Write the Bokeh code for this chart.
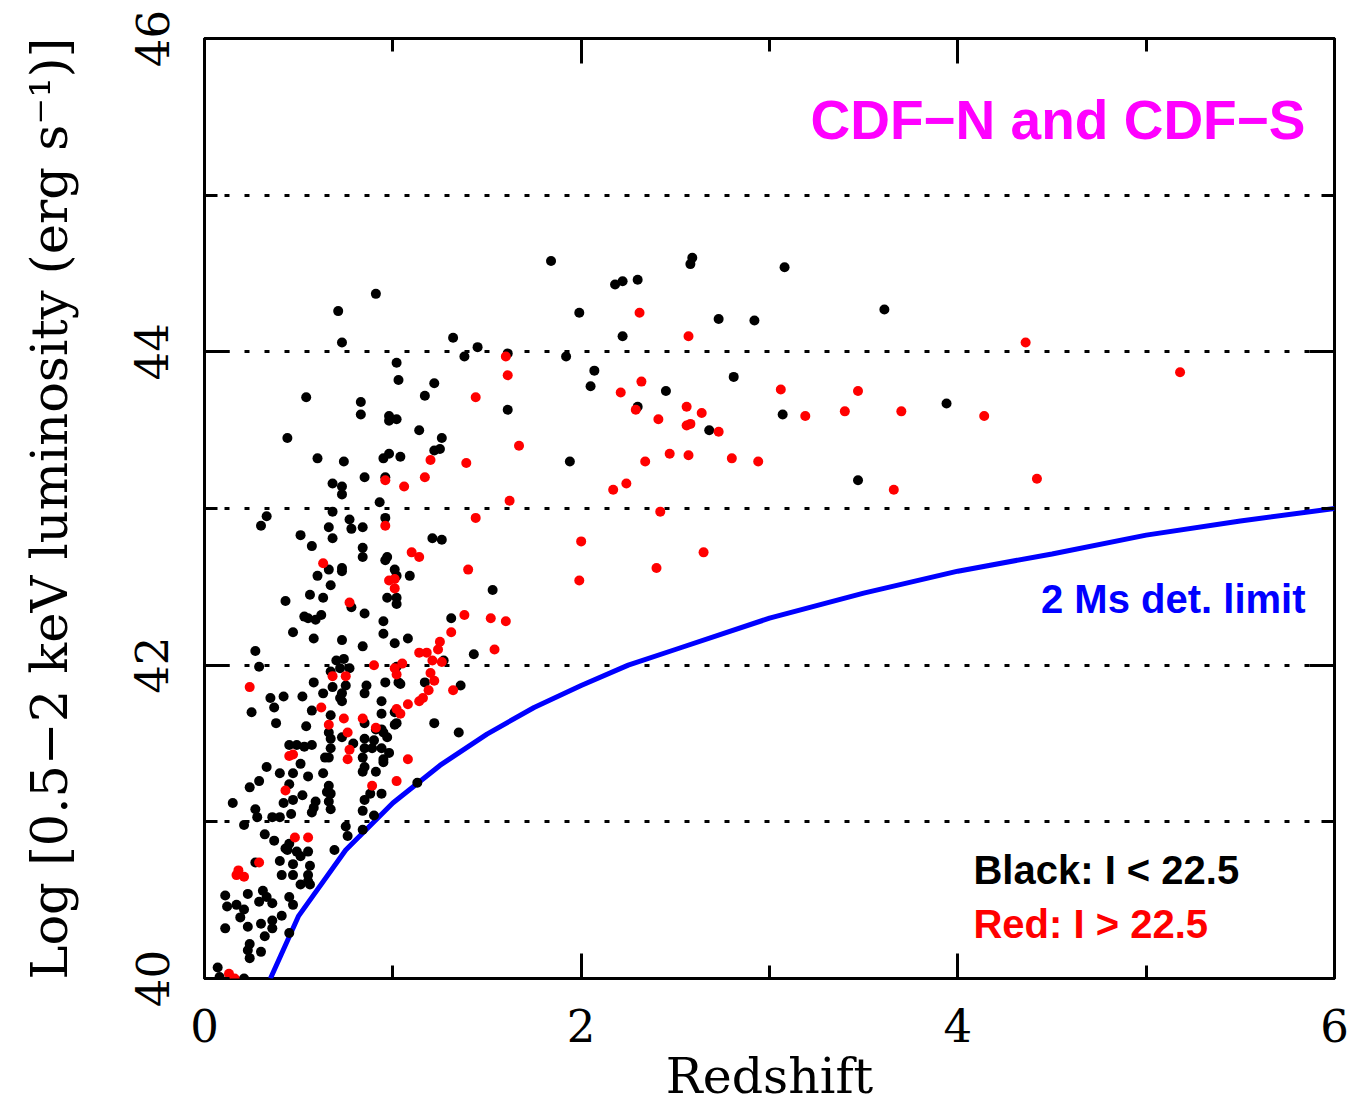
from bokeh.plotting import figure
from bokeh.models import (Range1d, LinearAxis, SingleIntervalTicker, Label,
                          CustomJSTickFormatter)
from bokeh.embed import file_html
from bokeh.resources import INLINE

# Sources with optical magnitude I < 22.5 (redshift, log L_0.5-2keV)
z_black = [1.84, 2.59, 2.58, 3.08, 2.18, 2.22, 2.30, 1.99, 2.73, 2.92, 3.61, 2.22, 1.61, 1.92,
           2.07, 2.05, 2.81, 2.45, 1.61, 2.30, 3.07, 3.94, 2.68, 1.94, 3.47,
           0.91, 0.71, 0.73, 1.32, 1.45, 1.38, 1.02, 1.03, 1.22, 1.17, 0.54, 0.83, 0.83, 0.98,
           0.98, 1.02, 1.14, 1.26, 1.22, 1.25, 0.44, 0.60, 0.74, 0.95, 0.98, 1.04, 0.85, 0.96,
           0.68, 0.73, 0.73, 0.93, 0.33, 0.30, 0.68, 0.77, 0.66, 0.78, 0.84, 0.96, 0.68, 0.51,
           0.57, 0.84, 1.21, 1.26,
           0.84, 0.97, 0.96, 0.66, 0.73, 0.73, 0.60, 0.67, 1.01, 1.02, 1.09, 1.53, 0.56, 0.63,
           0.43, 0.97, 1.02, 1.02, 0.78, 0.85, 0.53, 0.55, 0.59, 0.62, 0.95, 1.31, 0.47, 0.58,
           0.95, 0.73, 1.01, 1.08, 0.84, 1.43, 0.27, 0.29, 0.70, 0.74, 0.67, 0.72, 0.77, 1.02,
           1.27, 0.58, 0.68, 0.75, 0.96, 0.86, 1.04, 1.03, 1.17, 1.36, 0.35, 0.42, 0.52, 0.63,
           0.73, 0.72, 0.73, 0.85, 0.94, 0.37, 0.25, 0.57, 0.94, 1.01, 0.67, 0.38, 0.54, 1.02,
           1.01, 1.22, 0.66, 0.67, 0.85, 0.91, 0.94, 0.95, 0.97, 0.85, 0.73, 0.79, 1.35, 0.45,
           0.49, 0.53, 0.57, 0.90, 0.89, 0.94, 0.67, 0.85, 0.98, 0.64, 0.66, 0.84, 0.95,
           0.51, 0.85, 0.84, 0.95, 0.91, 0.33, 0.40, 0.47, 0.55, 0.63, 0.29, 0.45, 0.24, 0.66,
           0.65, 0.67, 0.88, 0.94, 1.13, 0.52, 0.47, 0.15, 0.42, 0.59, 0.58, 0.57, 0.66, 0.67,
           0.85, 0.27, 0.28, 0.46, 0.36, 0.40, 0.84, 0.90, 0.21, 0.75, 0.76, 0.84, 0.32, 0.37,
           0.45, 0.43, 0.44, 0.49, 0.51, 0.55, 0.69, 0.40, 0.27, 0.47, 0.56, 0.41, 0.47, 0.55,
           0.55, 0.51, 0.56, 0.11, 0.23, 0.31, 0.29, 0.33, 0.36, 0.45, 0.47, 0.12, 0.17, 0.21,
           0.19, 0.11, 0.23, 0.30, 0.32, 0.36, 0.36, 0.41, 0.45, 0.24, 0.23, 0.24, 0.30, 0.07,
           0.08, 0.21]
L_black = [44.58, 44.60, 44.56, 44.54, 44.43, 44.45, 44.46, 44.25, 44.21, 44.20, 44.27, 44.10, 43.99, 43.97,
           43.88, 43.78, 43.84, 43.75, 43.63, 43.65, 43.60, 43.67, 43.50, 43.30, 43.18,
           44.37, 44.26, 44.06, 44.09, 44.03, 43.97, 43.93, 43.82, 43.80, 43.72, 43.71, 43.68, 43.60, 43.59,
           43.56, 43.57, 43.50, 43.45, 43.37, 43.38, 43.45, 43.32, 43.30, 43.32, 43.35, 43.33, 43.20, 43.20,
           43.16, 43.14, 43.09, 43.04, 42.95, 42.89, 42.98, 42.93, 42.88, 42.87, 42.88, 42.94, 42.81, 42.83,
           42.76, 42.75, 42.81, 42.80,
           42.69, 42.69, 42.67, 42.61, 42.62, 42.60, 42.57, 42.51, 42.61, 42.57, 42.57, 42.48, 42.45, 42.43,
           42.41, 42.43, 42.43, 42.39, 42.37, 42.33, 42.31, 42.30, 42.29, 42.32, 42.28, 42.30, 42.21, 42.17,
           42.20, 42.16, 42.14, 42.17, 42.12, 42.07, 42.09, 41.99, 42.03, 42.04, 41.96, 41.98, 41.98, 41.99,
           42.03, 41.89, 41.86, 41.87, 41.89, 41.87, 41.88, 41.89, 41.89, 41.87, 41.79, 41.80, 41.80, 41.82,
           41.82, 41.79, 41.77, 41.82, 41.77, 41.73, 41.70, 41.71, 41.69, 41.70, 41.68, 41.63, 41.61, 41.63,
           41.62, 41.63, 41.57, 41.53, 41.63, 41.59, 41.59, 41.57, 41.54, 41.53, 41.54, 41.50, 41.57, 41.49,
           41.49, 41.48, 41.49, 41.52, 41.47, 41.47, 41.47, 41.47, 41.44, 41.41, 41.41, 41.41, 41.40,
           41.37, 41.35, 41.32, 41.38, 41.32, 41.35, 41.31, 41.31, 41.29, 41.31, 41.26, 41.24, 41.22, 41.23,
           41.19, 41.18, 41.18, 41.18, 41.25, 41.17, 41.14, 41.12, 41.12, 41.13, 41.09, 41.06, 41.13, 41.08,
           41.14, 41.08, 41.03, 41.05, 41.03, 41.03, 41.07, 41.04, 40.98, 40.97, 40.91, 40.95, 40.92, 40.88,
           40.86, 40.83, 40.82, 40.81, 40.78, 40.81, 40.82, 40.75, 40.74, 40.73, 40.72, 40.66, 40.66, 40.66,
           40.62, 40.60, 40.60, 40.53, 40.54, 40.56, 40.49, 40.52, 40.48, 40.52, 40.47, 40.46, 40.47, 40.44,
           40.39, 40.32, 40.33, 40.35, 40.27, 40.37, 40.32, 40.40, 40.29, 40.22, 40.18, 40.13, 40.17, 40.07,
           40.01, 40.00]

# Sources with optical magnitude I > 22.5
z_red = [1.60, 2.31, 2.57, 4.36, 1.61, 2.32, 2.21, 3.06, 3.47, 2.29, 2.56, 2.64, 2.41, 2.56, 2.58,
         3.19, 3.40, 3.70, 4.14, 2.73, 1.67, 2.47, 2.57, 2.34, 2.80, 2.94, 2.24, 2.17, 3.66, 4.42,
         1.62, 2.42, 2.00, 2.65, 2.40, 1.99, 5.18,
         1.44, 1.20, 1.39, 0.96, 1.06, 1.17, 1.44, 0.96,
         1.10, 1.14, 0.63, 1.40, 0.98, 1.01, 1.01, 0.77, 1.38, 1.52, 1.60, 1.31, 1.25, 1.24, 1.14,
         1.18, 1.54, 1.21, 1.26, 0.90, 1.05, 1.01, 1.02, 0.24, 0.68, 0.75, 1.20, 1.22, 1.19, 1.32,
         1.08, 1.14, 1.16, 0.62, 1.02, 1.04, 0.74, 0.84, 0.66, 0.91, 0.76, 0.77, 0.45, 0.47, 1.08,
         0.76, 0.43, 0.89, 1.02, 0.29, 0.48, 0.55, 0.18, 0.17, 0.21, 0.13, 0.16]
L_red = [43.97, 44.25, 44.10, 44.06, 43.85, 43.81, 43.74, 43.76, 43.75, 43.63, 43.65, 43.61, 43.57, 43.53, 43.54,
         43.59, 43.62, 43.62, 43.59, 43.49, 43.40, 43.35, 43.34, 43.30, 43.32, 43.30, 43.16, 43.12, 43.12, 43.19,
         43.05, 42.98, 42.79, 42.72, 42.62, 42.54, 43.87,
         43.71, 43.31, 43.29, 43.18, 43.14, 43.20, 42.94, 42.89,
         42.72, 42.69, 42.65, 42.61, 42.54, 42.55, 42.49, 42.40, 42.32, 42.30, 42.28, 42.21, 42.15, 42.10, 42.08,
         42.08, 42.10, 42.03, 42.02, 42.00, 42.01, 41.98, 41.94, 41.86, 41.93, 41.93, 41.95, 41.90, 41.84, 41.84,
         41.75, 41.77, 41.79, 41.73, 41.72, 41.69, 41.66, 41.66, 41.62, 41.60, 41.57, 41.46, 41.42, 41.43, 41.40,
         41.40, 41.20, 41.23, 41.26, 40.74, 40.90, 40.90, 40.69, 40.66, 40.65, 40.03, 40.00]

# 2 Ms flux detection limit expressed as luminosity
z_lim = [0.35, 0.50, 0.75, 1.00, 1.25, 1.50, 1.75, 2.00, 2.25, 2.50, 3.00, 3.50, 4.00, 4.50, 5.00, 5.50, 6.00]
L_lim = [40.00, 40.40, 40.82, 41.12, 41.36, 41.56, 41.73, 41.87, 42.00, 42.10, 42.30, 42.46, 42.60, 42.71,
         42.83, 42.92, 43.00]

SERIF = "DejaVu Serif"
SANS = "Liberation Sans"

p = figure(frame_width=1130, frame_height=940,
           x_range=Range1d(0, 6), y_range=Range1d(40, 46),
           output_backend="svg", toolbar_location=None,
           min_border_left=204, min_border_right=17,
           min_border_top=38, min_border_bottom=128,
           background_fill_color="white", border_fill_color="white")

p.outline_line_color = "black"
p.outline_line_width = 3
p.outline_line_alpha = 1.0

bottom_axis = p.below[0]
left_axis = p.left[0]

bottom_axis.ticker = SingleIntervalTicker(interval=2, num_minor_ticks=2)
left_axis.ticker = SingleIntervalTicker(interval=2, num_minor_ticks=2)
bottom_axis.axis_label = "Redshift"
left_axis.axis_label = "Log [0.5\u22122 keV luminosity (erg s\u207b\u00b9)]"
left_axis.major_label_orientation = "vertical"

top_axis = LinearAxis(ticker=SingleIntervalTicker(interval=2, num_minor_ticks=2),
                      formatter=CustomJSTickFormatter(code="return ''"))
right_axis = LinearAxis(ticker=SingleIntervalTicker(interval=2, num_minor_ticks=2),
                        formatter=CustomJSTickFormatter(code="return ''"))
p.add_layout(top_axis, "above")
p.add_layout(right_axis, "right")

for ax in (bottom_axis, left_axis, top_axis, right_axis):
    ax.axis_line_color = None
    ax.major_tick_in = 25
    ax.major_tick_out = 0
    ax.minor_tick_in = 13
    ax.minor_tick_out = 0
    ax.major_tick_line_width = 3
    ax.minor_tick_line_width = 3
    ax.major_tick_line_color = "black"
    ax.minor_tick_line_color = "black"
    ax.major_label_text_font = SERIF
    ax.major_label_text_font_size = "45px"
    ax.major_label_text_color = "black"
    ax.axis_label_text_font = SERIF
    ax.axis_label_text_font_style = "normal"
    ax.axis_label_text_color = "black"

bottom_axis.major_label_standoff = 30
bottom_axis.axis_label_standoff = 3
bottom_axis.axis_label_text_font_size = "49px"
left_axis.major_label_standoff = 36
left_axis.axis_label_standoff = 54
left_axis.axis_label_text_font_size = "51px"

p.xgrid.visible = False
p.ygrid.ticker = SingleIntervalTicker(interval=1)
p.ygrid.grid_line_color = "black"
p.ygrid.grid_line_width = 3
p.ygrid.grid_line_dash = "5 15"

# detection-limit curve sits beneath the sources
p.line(z_lim, L_lim, line_color="#0000ff", line_width=5)

p.scatter(z_black, L_black, marker="circle", size=10,
          fill_color="black", line_color="black", line_width=0)
p.scatter(z_red, L_red, marker="circle", size=10,
          fill_color="#ff0000", line_color="#ff0000", line_width=0)

p.add_layout(Label(x=5.846, y=45.48, text="CDF\u2212N and CDF\u2212S", text_align="right",
                   text_baseline="alphabetic", text_font=SANS, text_font_style="bold",
                   text_font_size="55px", text_color="#ff00ff"))
p.add_layout(Label(x=5.846, y=42.42, text="2 Ms det. limit", text_align="right",
                   text_baseline="alphabetic", text_font=SANS, text_font_style="bold",
                   text_font_size="40px", text_color="#0000ff"))
p.add_layout(Label(x=4.083, y=40.69, text="Black: I < 22.5", text_align="left",
                   text_baseline="alphabetic", text_font=SANS, text_font_style="bold",
                   text_font_size="40px", text_color="black"))
p.add_layout(Label(x=4.083, y=40.35, text="Red: I > 22.5", text_align="left",
                   text_baseline="alphabetic", text_font=SANS, text_font_style="bold",
                   text_font_size="40px", text_color="#ff0000"))

open("out.html", "w").write(file_html(p, INLINE))
